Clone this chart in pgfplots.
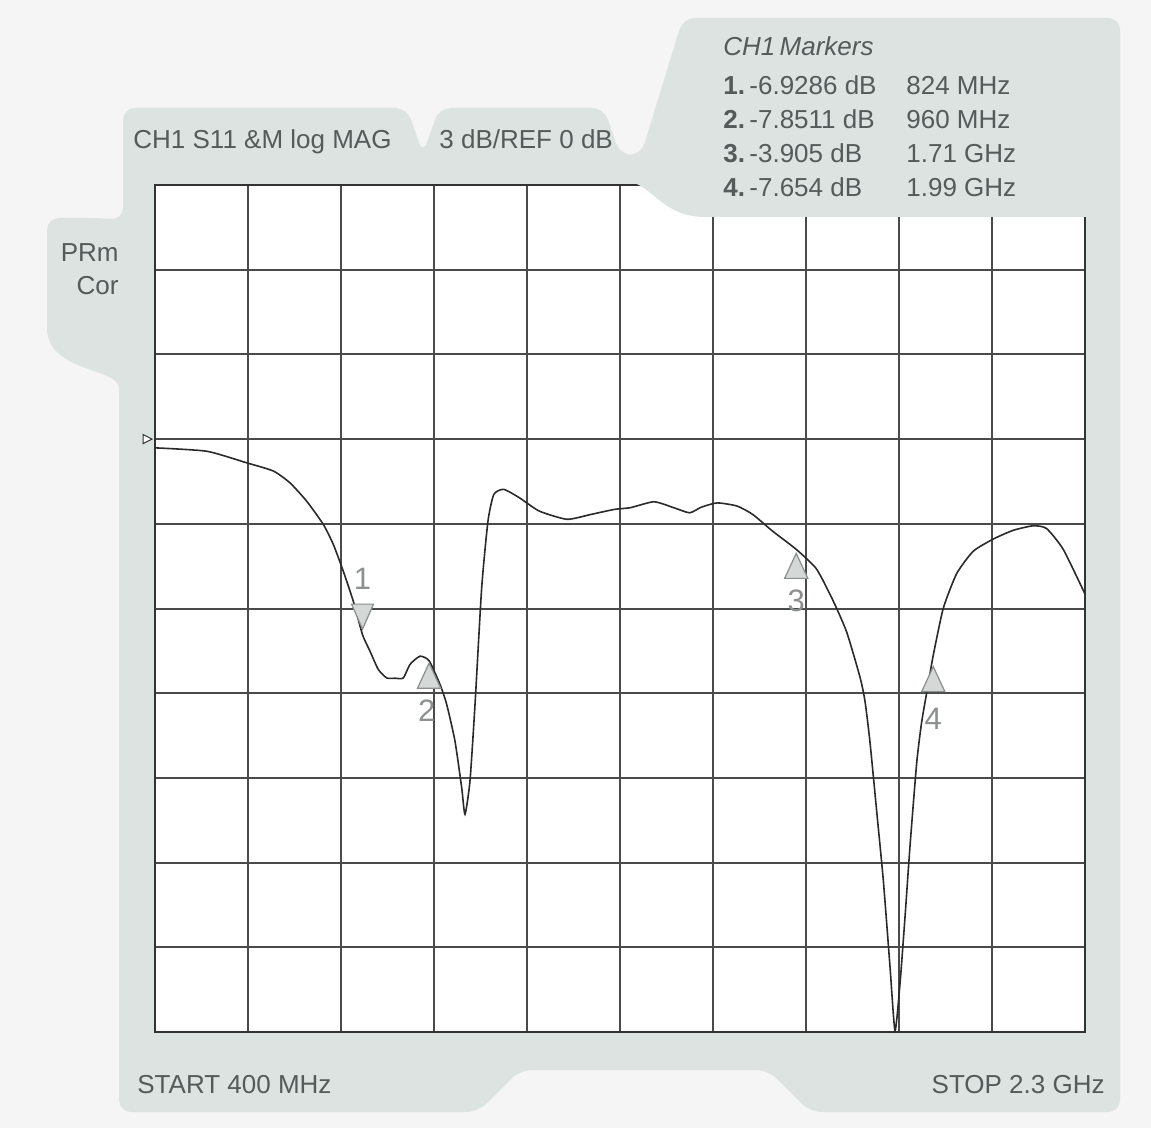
\documentclass[border=0pt]{standalone}
\usepackage{fontspec}
\setmainfont{Liberation Sans}
\usepackage{pgfplots}
\pgfplotsset{compat=1.18}
\definecolor{panel}{HTML}{DCE3E0}
\definecolor{outside}{HTML}{F4F5F4}
\definecolor{txt}{HTML}{555B5B}
\definecolor{gridc}{HTML}{4A4A4A}
\definecolor{mkfill}{HTML}{D4D9D7}
\definecolor{mkline}{HTML}{8A8E8D}
\definecolor{mklab}{HTML}{8C908F}
\definecolor{trace}{HTML}{2A2A2A}

\pgfdeclareplotmark{mkdown}{%
  \pgfpathmoveto{\pgfpoint{0pt}{0pt}}%
  \pgfpathlineto{\pgfpoint{-5.5pt}{12.5pt}}%
  \pgfpathlineto{\pgfpoint{5.5pt}{12.5pt}}%
  \pgfpathclose
  \pgfusepathqfillstroke}
\pgfdeclareplotmark{mkup}{%
  \pgfpathmoveto{\pgfpoint{0pt}{0pt}}%
  \pgfpathlineto{\pgfpoint{-5.8pt}{-12.5pt}}%
  \pgfpathlineto{\pgfpoint{5.8pt}{-12.5pt}}%
  \pgfpathclose
  \pgfusepathqfillstroke}
\pgfdeclareplotmark{refmk}{%
  \pgfpathmoveto{\pgfpoint{-1.5pt}{0pt}}%
  \pgfpathlineto{\pgfpoint{-6pt}{2.3pt}}%
  \pgfpathlineto{\pgfpoint{-6pt}{-2.3pt}}%
  \pgfpathclose
  \pgfusepathqfillstroke}

\begin{document}
\begin{tikzpicture}
\path[use as bounding box] (0,0) rectangle (575.5pt,-564pt);
\begin{scope}[x=0.5pt,y=-0.5pt]
\fill[outside] (0,0) rectangle (1151,1128);
\fill[panel, rounded corners=6pt]
  (123,220) -- (123,108) -- (407,108) -- (423,154) -- (439,108) -- (604,108)
  -- (620,155) -- (641,155) -- (683,18) -- (1120,18) -- (1120,1112)
  -- (810,1112) -- (768,1070) -- (520,1070) -- (478,1112) -- (119,1112)
  -- (119,400) [rounded corners=0pt] .. controls (119,368) and (47,372) .. (47,328)
  [rounded corners=6pt] -- (47,218) -- (100,218) -- cycle;
\end{scope}

\begin{axis}[
  at={(77.5pt,-516pt)}, anchor=south west,
  scale only axis, width=465pt, height=423.5pt,
  xmin=400, xmax=2300, ymin=-21, ymax=9,
  xtick={400,590,780,970,1160,1350,1540,1730,1920,2110,2300},
  ytick={-21,-18,-15,-12,-9,-6,-3,0,3,6,9},
  xticklabels={}, yticklabels={},
  major tick length=0pt,
  grid=major,
  major grid style={gridc, line width=1pt},
  axis line style={black!80, line width=1pt},
  axis background/.style={fill=white},
  clip=false,
]
\addplot[trace, line width=0.8pt, smooth, tension=0.35] coordinates {
(400,-0.31) (505.6,-0.43) (587.3,-0.84) (641.7,-1.13) (675.8,-1.55)
(709.9,-2.20) (743.8,-3.02) (764.3,-3.73) (784.7,-4.68) (805.1,-5.74)
(824,-6.93) (839.2,-7.51) (856.2,-8.16) (873.4,-8.46) (890.3,-8.47)
(907.3,-8.46) (921.0,-7.98) (941.4,-7.69) (960,-7.85) (982.3,-8.69)
(996,-9.40) (1012.9,-10.70) (1026.6,-12.35) (1033.3,-13.29) (1043.5,-12.11)
(1053.8,-9.40) (1067.4,-5.27) (1080.3,-2.90) (1092.2,-1.96) (1112.4,-1.78)
(1144.7,-2.08) (1185.1,-2.55) (1241.7,-2.84) (1290.1,-2.67) (1338.6,-2.49)
(1371.0,-2.43) (1419.4,-2.22) (1459.9,-2.43) (1492.2,-2.61) (1516.3,-2.41)
(1548.6,-2.26) (1589.0,-2.37) (1621.3,-2.67) (1661.7,-3.26) (1710,-3.905)
(1751.4,-4.60) (1785.8,-5.74) (1813.2,-6.84) (1840.3,-8.43) (1850.5,-9.28)
(1860.7,-10.73) (1874.4,-13.18) (1887.9,-15.62) (1901.6,-18.68) (1911.8,-20.95)
(1922.0,-19.30) (1932.6,-16.85) (1942.5,-14.41) (1956.1,-11.48) (1966.4,-10.01)
(1979.8,-8.67) (1990,-7.654) (2010.5,-5.99) (2037.9,-4.76) (2071.8,-3.97)
(2112.6,-3.54) (2153.5,-3.23) (2194.4,-3.07) (2221.7,-3.17) (2255.7,-3.91)
(2300,-5.49)
};
% reference level indicator
\addplot[only marks, mark=refmk, mark options={draw=black!80, fill=white, line width=0.5pt}] coordinates {(400,0)};
% markers
\pgfplotsset{mklabel/.style={nodes near coords, point meta=explicit symbolic,
  nodes near coords align={anchor=center},
  every node near coord/.append style={anchor=center, text=mklab,
    font=\fontsize{15.5pt}{17pt}\selectfont, #1}}}
\addplot[only marks, mark=mkdown, mark options={fill=mkfill, draw=mkline, line width=0.6pt, yshift=2.8pt},
  mklabel={yshift=25pt}] coordinates {(824,-6.9286) [1]};
\addplot[only marks, mark=mkup, mark options={fill=mkfill, draw=mkline, line width=0.6pt, yshift=-1.2pt},
  mklabel={yshift=-24pt, xshift=-1.2pt}] coordinates {(960,-7.8511) [2]};
\addplot[only marks, mark=mkup, mark options={fill=mkfill, draw=mkline, line width=0.6pt, yshift=-2pt},
  mklabel={yshift=-23.5pt}] coordinates {(1710,-3.905) [3]};
\addplot[only marks, mark=mkup, mark options={fill=mkfill, draw=mkline, line width=0.6pt, yshift=-5.7pt},
  mklabel={yshift=-26pt}] coordinates {(1990,-7.654) [4]};
\end{axis}

\begin{scope}[x=0.5pt,y=-0.5pt]
% marker box lower edge covering the top right of the grid
\fill[panel] (627,181) .. controls (652,184) and (662,217) .. (705,217) -- (1091,217) -- (1091,181) -- cycle;
\begin{scope}[every node/.style={inner sep=0pt, text=txt, font=\fontsize{13pt}{15pt}\selectfont}]
\node[anchor=base west] at (133,149) {CH1 S11 \&M log MAG};
\node[anchor=base west] at (439,149) {3 dB/REF 0 dB};
\node[anchor=base west] at (723,56) {\itshape CH1\,Markers};
\node[anchor=base west] at (723,95) {\textbf{1.}\,-6.9286 dB};
\node[anchor=base west] at (906,95) {824 MHz};
\node[anchor=base west] at (723,129) {\textbf{2.}\,-7.8511 dB};
\node[anchor=base west] at (906,129) {960 MHz};
\node[anchor=base west] at (723,163) {\textbf{3.}\,-3.905 dB};
\node[anchor=base west] at (906,163) {1.71 GHz};
\node[anchor=base west] at (723,197) {\textbf{4.}\,-7.654 dB};
\node[anchor=base west] at (906,197) {1.99 GHz};
\node[anchor=base east] at (119,262) {PRm};
\node[anchor=base east] at (119,295) {Cor};
\node[anchor=base west] at (137,1093) {START 400 MHz};
\node[anchor=base east] at (1105,1093) {STOP 2.3 GHz};
\end{scope}
\end{scope}
\end{tikzpicture}
\end{document}
